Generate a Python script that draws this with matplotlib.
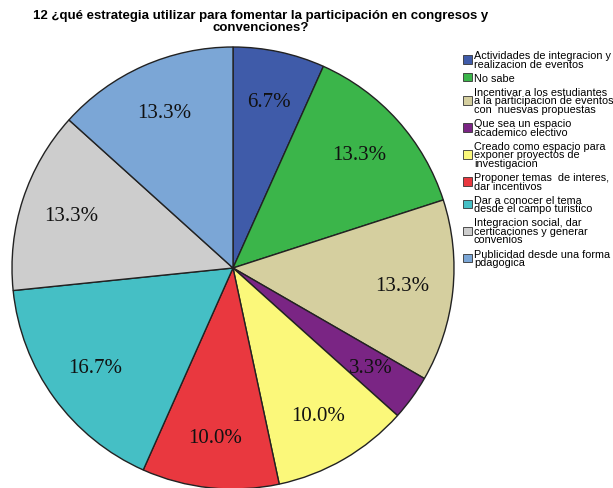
import matplotlib.pyplot as plt

# data
labels = [
    "Actividades de integracion y\nrealizacion de eventos",
    "No sabe",
    "Incentivar a los estudiantes\na la participacion de eventos\ncon  nuesvas propuestas",
    "Que sea un espacio\nacademico electivo",
    "Creado como espacio para\nexponer proyectos de\ninvestigacion",
    "Proponer temas  de interes,\ndar incentivos",
    "Dar a conocer el tema\ndesde el campo turistico",
    "Integracion social, dar\ncerticaciones y generar\nconvenios",
    "Publicidad desde una forma\npdagogica",
]
percents = [6.7, 13.3, 13.3, 3.3, 10.0, 10.0, 16.7, 13.3, 13.3]
colors = ["#3F5BA9", "#3BB54A", "#D5CF9F", "#7A2584", "#FBF87A",
          "#E9383F", "#45BFC5", "#CDCDCD", "#7BA6D6"]

W, H = 613, 489
fig = plt.figure(figsize=(W / 100, H / 100), dpi=100)

# pie area: centre ~ (233, 269) px, radius ~ 221 px
cx, cy, r = 233, 269, 221
ax = fig.add_axes([(cx - r) / W, (H - cy - r) / H, 2 * r / W, 2 * r / H])
wedges, texts, autotexts = ax.pie(
    percents, colors=colors, startangle=90, counterclock=False,
    autopct="%1.1f%%", pctdistance=0.77,
    wedgeprops=dict(edgecolor="#222222", linewidth=1.0),
    textprops=dict(family="Liberation Serif", fontsize=15, color="#111111"),
)
ax.set_aspect("auto")
ax.set_xlim(-1, 1)
ax.set_ylim(-1, 1)

fig.text(261 / W, 1 - 22 / H,
         "12 ¿qué estrategia utilizar para fomentar la participación en congresos y\nconvenciones?",
         ha="center", va="center", fontsize=9.5, fontweight="bold",
         family="Liberation Sans", linespacing=0.95)

leg = fig.legend(wedges, labels, loc="upper left",
                 bbox_to_anchor=(463 / W, 1 - 51 / H), borderaxespad=0,
                 frameon=False, prop=dict(family="Liberation Sans", size=7.8),
                 handlelength=0.8, handleheight=0.8, handletextpad=0.2,
                 labelspacing=0.38, borderpad=0)
for t in leg.get_texts():
    t.set_linespacing(0.82)
for h in leg.legend_handles:
    h.set_edgecolor("#333333")
    h.set_linewidth(0.6)

fig.savefig("out.png", dpi=100)
